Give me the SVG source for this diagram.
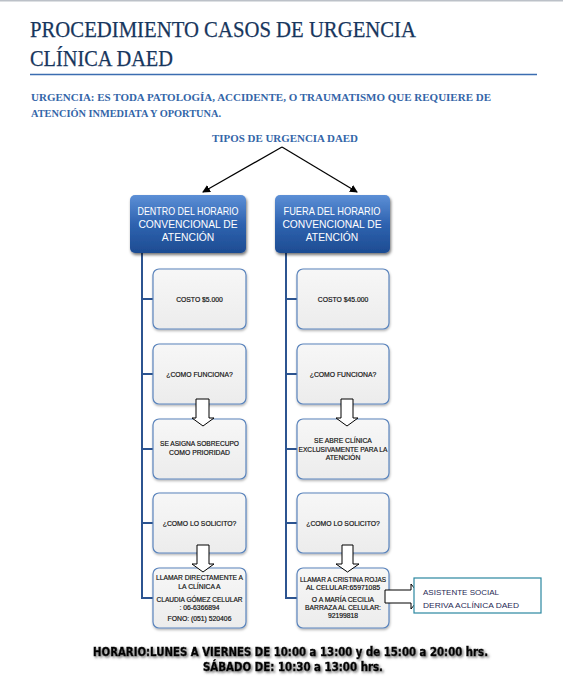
<svg xmlns="http://www.w3.org/2000/svg" width="563" height="697" viewBox="0 0 563 697">
<defs>
<linearGradient id="hg" x1="0" y1="0" x2="0" y2="1">
<stop offset="0" stop-color="#5C8FD6"/>
<stop offset="0.5" stop-color="#2F63B0"/>
<stop offset="1" stop-color="#1D4C92"/>
</linearGradient>
<linearGradient id="cg" x1="0" y1="0" x2="0" y2="1">
<stop offset="0" stop-color="#F7F7F7"/>
<stop offset="1" stop-color="#ECECEC"/>
</linearGradient>
<filter id="sh" x="-10%" y="-10%" width="125%" height="130%">
<feDropShadow dx="1" dy="2" stdDeviation="1.5" flood-color="#000" flood-opacity="0.55"/>
</filter>
<filter id="sh2" x="-10%" y="-10%" width="125%" height="130%">
<feDropShadow dx="0.5" dy="1.5" stdDeviation="1.2" flood-color="#000" flood-opacity="0.3"/>
</filter>
<filter id="tsh" x="-5%" y="-30%" width="110%" height="170%">
<feDropShadow dx="1.5" dy="1.5" stdDeviation="0.8" flood-color="#666" flood-opacity="0.9"/>
</filter>
<marker id="ah" markerWidth="8" markerHeight="8" refX="7" refY="4" orient="auto" markerUnits="userSpaceOnUse">
<path d="M0,0 L8,4 L0,8 z" fill="#000"/>
</marker>
</defs>
<style>
.title{font-family:"Liberation Serif","DejaVu Serif",serif;font-size:24px;fill:#17365D;stroke:#17365D;stroke-width:0.25}
.sub{font-family:"Liberation Serif","DejaVu Serif",serif;font-size:11px;font-weight:bold;fill:#3365A8}
.hdr{fill:url(#hg);filter:url(#sh)}
.ht{font-family:"Liberation Sans",Arial,sans-serif;font-size:10.3px;fill:#fff;text-anchor:middle}
.box{fill:url(#cg);stroke:#5A84BC;stroke-width:1.2;filter:url(#sh2)}
.bt{font-family:"Liberation Sans",Arial,sans-serif;font-size:6.8px;fill:#111;stroke:#111;stroke-width:0.18;text-anchor:middle}
.tie{fill:none;stroke:#2C5490;stroke-width:2}
.blk{fill:#fff;stroke:#000;stroke-width:1}
.bot{font-family:"DejaVu Sans Condensed","DejaVu Sans",sans-serif;font-weight:bold;font-size:12.5px;fill:#000;stroke:#000;stroke-width:0.5;text-anchor:middle;filter:url(#tsh)}
</style>
<rect x="0" y="0" width="563" height="697" fill="#fff"/>
<line x1="0" y1="0.8" x2="563" y2="0.8" stroke="#BCC1C8" stroke-width="1.6"/>
<g id="header">
<text class="title" x="30" y="37" textLength="386" lengthAdjust="spacingAndGlyphs">PROCEDIMIENTO CASOS DE URGENCIA</text>
<text class="title" x="30" y="66" textLength="143" lengthAdjust="spacingAndGlyphs">CLÍNICA DAED</text>
<line x1="30" y1="74.5" x2="537" y2="74.5" stroke="#3B6DB1" stroke-width="1.5"/>
<text class="sub" x="31" y="101" textLength="460" lengthAdjust="spacingAndGlyphs">URGENCIA: ES TODA PATOLOGÍA, ACCIDENTE, O TRAUMATISMO QUE REQUIERE DE</text>
<text class="sub" x="31" y="117" textLength="190" lengthAdjust="spacingAndGlyphs">ATENCIÓN INMEDIATA Y OPORTUNA.</text>
</g>
<g id="tipos">
<text class="sub" x="285" y="142" text-anchor="middle" textLength="146" lengthAdjust="spacingAndGlyphs">TIPOS DE URGENCIA DAED</text>
</g>
<g id="connectors">
<line x1="282" y1="147" x2="203" y2="192" stroke="#000" stroke-width="1.2" marker-end="url(#ah)"/>
<line x1="282" y1="147" x2="357" y2="192" stroke="#000" stroke-width="1.2" marker-end="url(#ah)"/>
<path class="tie" d="M142,253 V598 H153 M142,299 H153 M142,374 H153 M142,449 H153 M142,523 H153"/>
<path class="tie" d="M286,253 V598 H297 M286,299 H297 M286,374 H297 M286,449 H297 M286,523 H297"/>
</g>
<g id="dentro">
<rect class="hdr" x="130" y="195" width="116" height="58" rx="5"/>
<text class="ht" x="188" y="215" textLength="101" lengthAdjust="spacingAndGlyphs">DENTRO DEL HORARIO</text>
<text class="ht" x="188" y="228">CONVENCIONAL DE</text>
<text class="ht" x="188" y="241">ATENCIÓN</text>
</g>
<g id="fuera">
<rect class="hdr" x="275" y="195" width="115" height="58" rx="5"/>
<text class="ht" x="332" y="215" textLength="97" lengthAdjust="spacingAndGlyphs">FUERA DEL HORARIO</text>
<text class="ht" x="332" y="228">CONVENCIONAL DE</text>
<text class="ht" x="332" y="241">ATENCIÓN</text>
</g>
<g id="l1"><rect class="box" x="153" y="269" width="93" height="60" rx="6"/><text class="bt" x="199.5" y="301.5">COSTO $5.000</text></g>
<g id="l2"><rect class="box" x="153" y="344" width="93" height="60" rx="6"/><text class="bt" x="199.5" y="376.5">¿COMO FUNCIONA?</text></g>
<g id="l3"><rect class="box" x="153" y="419" width="93" height="60" rx="6"/><text class="bt" x="199.5" y="445.5" textLength="79" lengthAdjust="spacingAndGlyphs">SE ASIGNA SOBRECUPO</text><text class="bt" x="199.5" y="454.5">COMO PRIORIDAD</text></g>
<g id="l4"><rect class="box" x="153" y="493" width="93" height="60" rx="6"/><text class="bt" x="199.5" y="525.5">¿COMO LO SOLICITO?</text></g>
<g id="l5"><rect class="box" x="153" y="568" width="93" height="60" rx="6"/>
<text class="bt" x="199.5" y="580" textLength="87" lengthAdjust="spacingAndGlyphs">LLAMAR DIRECTAMENTE A</text>
<text class="bt" x="199.5" y="588.5">LA CLÍNICA A</text>
<text class="bt" x="199.5" y="601.5" textLength="86" lengthAdjust="spacingAndGlyphs">CLAUDIA GÓMEZ CELULAR</text>
<text class="bt" x="199.5" y="609.5">: 06-6366894</text>
<text class="bt" x="199.5" y="620.5">FONO: (051) 520406</text></g>
<g id="r1"><rect class="box" x="297" y="269" width="92" height="60" rx="6"/><text class="bt" x="343" y="301.5">COSTO $45.000</text></g>
<g id="r2"><rect class="box" x="297" y="344" width="92" height="60" rx="6"/><text class="bt" x="343" y="376.5">¿COMO FUNCIONA?</text></g>
<g id="r3"><rect class="box" x="297" y="419" width="92" height="60" rx="6"/>
<text class="bt" x="343" y="442.5">SE ABRE CLÍNICA</text>
<text class="bt" x="343" y="451.5" textLength="89" lengthAdjust="spacingAndGlyphs">EXCLUSIVAMENTE PARA LA</text>
<text class="bt" x="343" y="459.5">ATENCIÓN</text></g>
<g id="r4"><rect class="box" x="297" y="493" width="92" height="60" rx="6"/><text class="bt" x="343" y="525.5">¿COMO LO SOLICITO?</text></g>
<g id="r5"><rect class="box" x="297" y="568" width="92" height="60" rx="6"/>
<text class="bt" x="343" y="581.5" textLength="86" lengthAdjust="spacingAndGlyphs">LLAMAR A CRISTINA ROJAS</text>
<text class="bt" x="343" y="589.5" textLength="74" lengthAdjust="spacingAndGlyphs">AL CELULAR:65971085</text>
<text class="bt" x="343" y="601.5">O A MARÍA CECILIA</text>
<text class="bt" x="343" y="609.5" textLength="76" lengthAdjust="spacingAndGlyphs">BARRAZA AL CELULAR:</text>
<text class="bt" x="343" y="617.5">92199818</text></g>
<g id="block-arrows">
<path class="blk" d="M196,399 H209 V418 H214 L203,426 L192,418 H196 Z"/>
<path class="blk" d="M341,399 H353 V418 H358 L347,426 L336,418 H341 Z"/>
<path class="blk" d="M197,545 H209 V564 H214 L203,572 L192,564 H197 Z"/>
<path class="blk" d="M342,545 H353 V564 H359 L347.5,572 L336,564 H342 Z"/>
<path class="blk" d="M385,590 H411 V584 L421,596.5 L411,609 V603 H385 Z"/>
</g>
<g id="asistente">
<rect x="414" y="578" width="127" height="35" fill="#fff" stroke="#2B87A0" stroke-width="1.2"/>
<text x="423" y="595" font-family="Liberation Sans,Arial,sans-serif" font-size="8" fill="#1F2A55" textLength="76" lengthAdjust="spacingAndGlyphs">ASISTENTE SOCIAL</text>
<text x="423" y="607.5" font-family="Liberation Sans,Arial,sans-serif" font-size="8" fill="#1F2A55" textLength="96" lengthAdjust="spacingAndGlyphs">DERIVA ACLÍNICA  DAED</text>
</g>
<g id="horario">
<text class="bot" x="290.5" y="656" textLength="395" lengthAdjust="spacingAndGlyphs">HORARIO:LUNES A VIERNES DE 10:00 a 13:00 y de 15:00 a 20:00 hrs.</text>
<text class="bot" x="293" y="670.5" textLength="180" lengthAdjust="spacingAndGlyphs">SÁBADO DE: 10:30 a 13:00 hrs.</text>
</g>
</svg>
